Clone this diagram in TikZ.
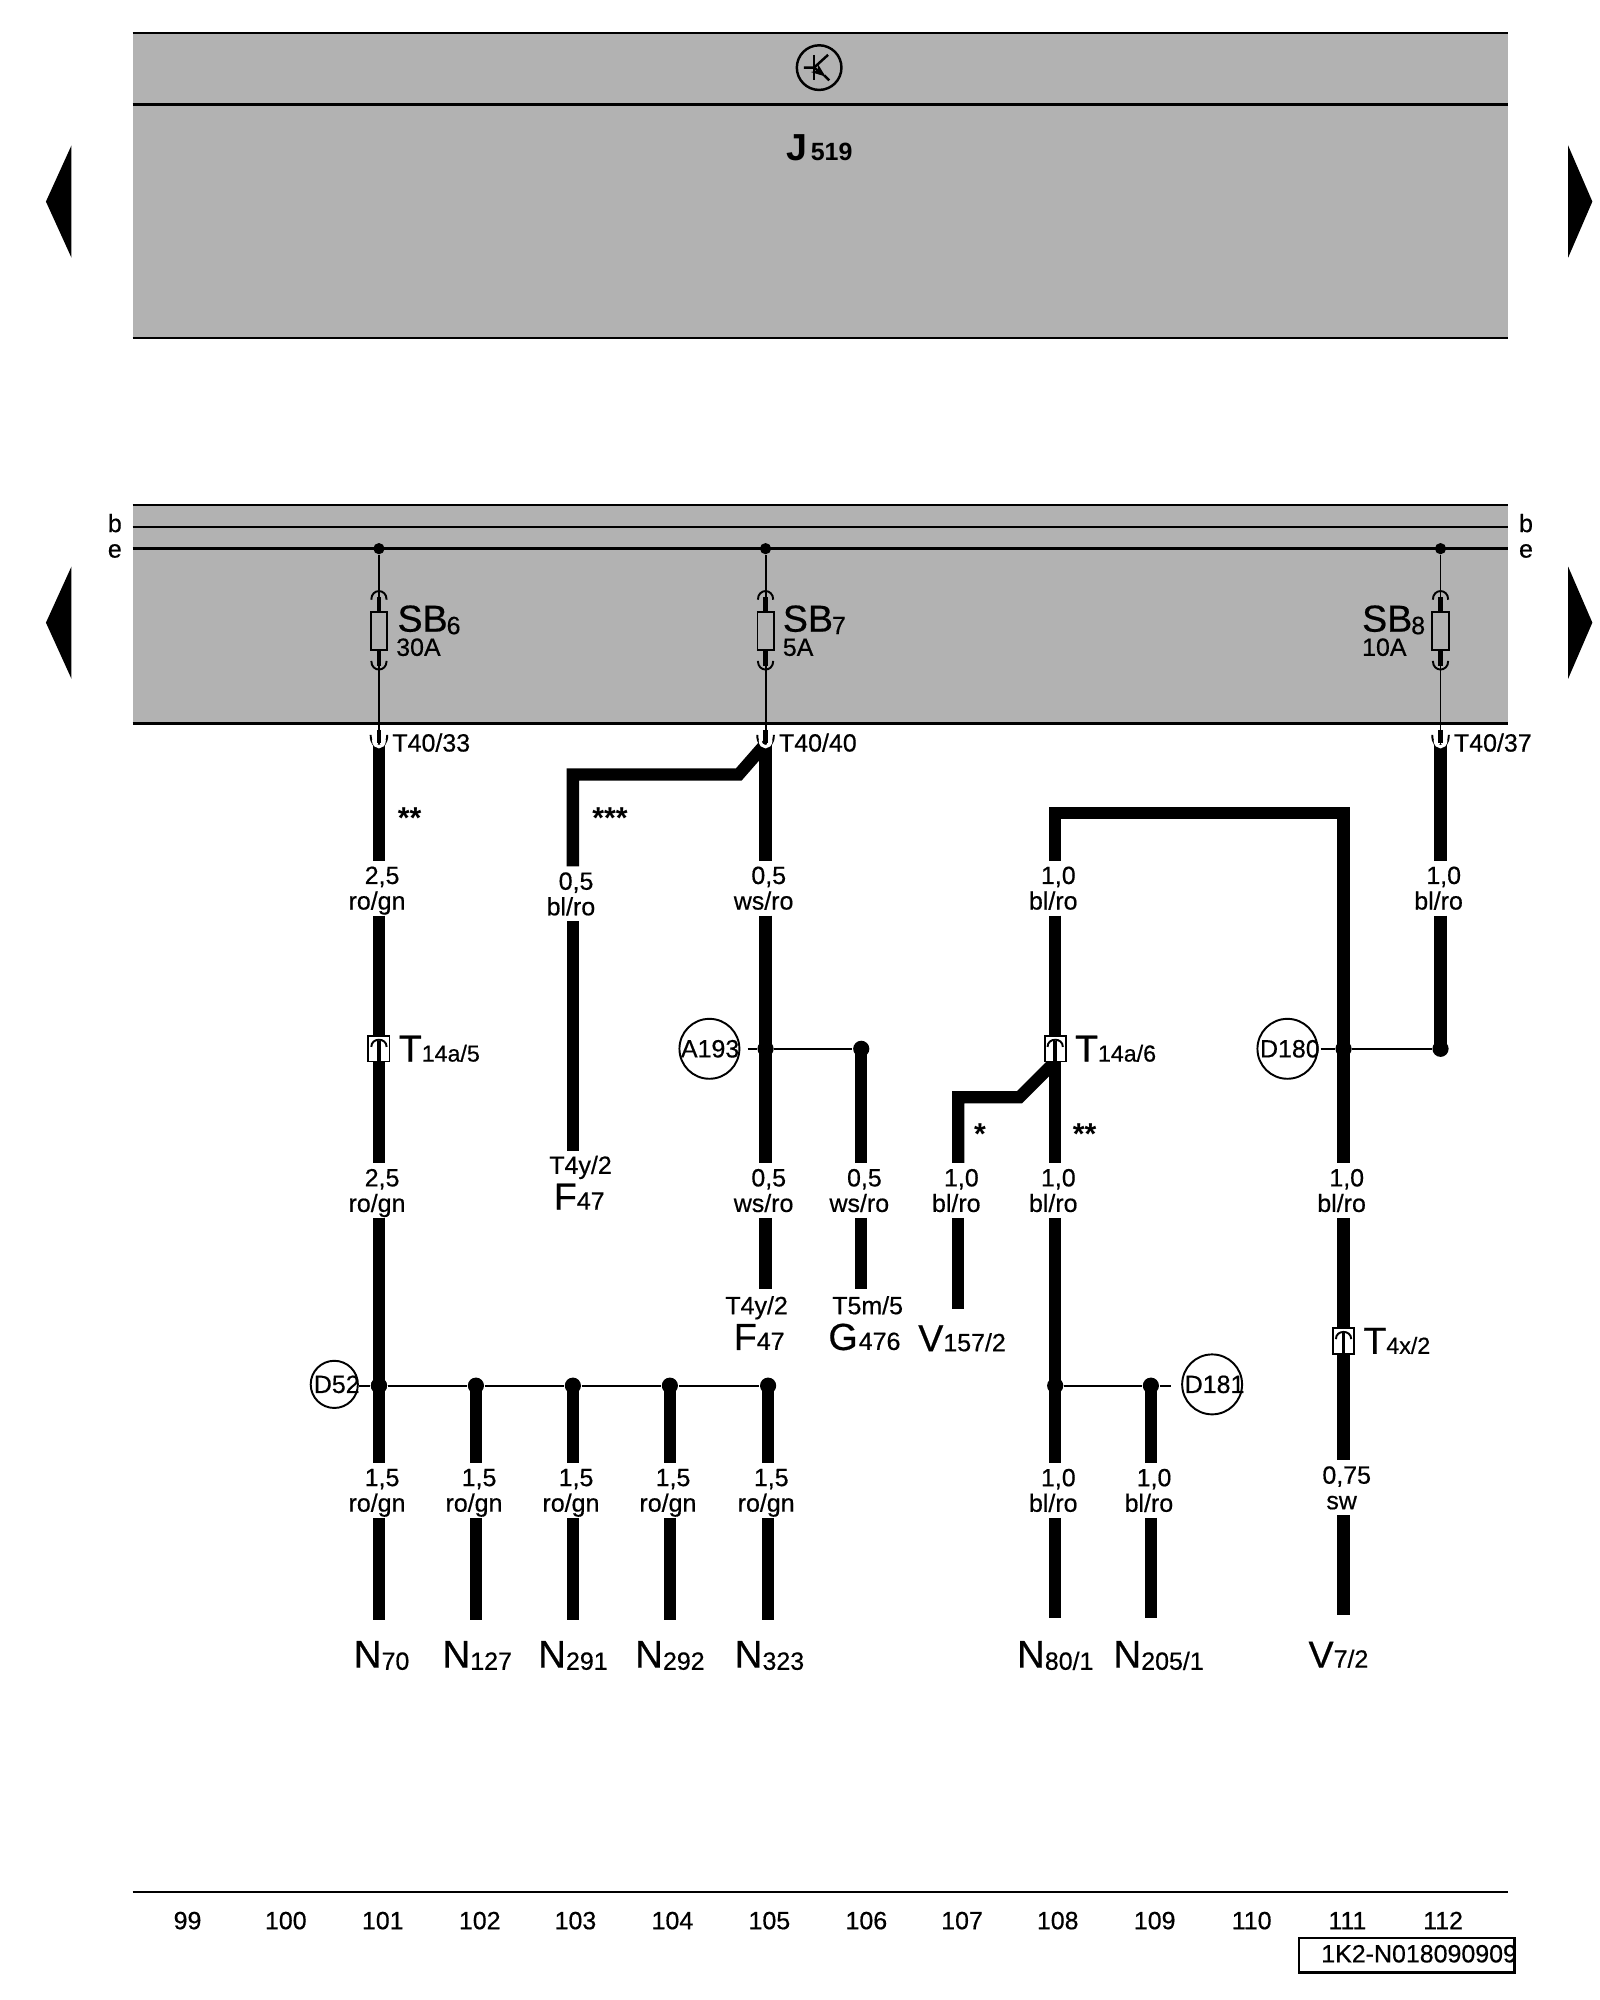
\documentclass[tikz,border=0pt]{standalone}
\usepackage{fontspec}
\setmainfont{Liberation Sans}[FakeBold=0.5]
\newfontfamily\boldface{Liberation Sans Bold}
\usetikzlibrary{arrows.meta, positioning, calc}
\definecolor{panelgray}{RGB}{178, 178, 178}
\newcommand{\smalltxt}{\fontsize{7.1}{7.26}\selectfont}
\newcommand{\bigtxt}{\fontsize{10.7}{11}\selectfont}
\newcommand{\partlabel}[2]{{\bigtxt #1}{\smalltxt #2}}
\newcommand{\plugname}[2]{{\bigtxt #1}{\fontsize{6.6}{7}\selectfont #2}}
\newcommand{\nname}[2]{{\fontsize{11}{11}\selectfont #1}\raisebox{-0.6pt}{\smalltxt #2}}
\newcommand{\wl}[2]{\hspace*{1.8pt}#1\\\smash{#2}\hspace*{1.1pt}}

\begin{document}
\begin{tikzpicture}[
        x=0.01276cm, y=-0.01276cm,
        wire/.style={line width=3.5pt},
        thinwire/.style={line width=0.55pt},
        busline/.style={line width=0.7pt},
        dot/.style={circle, fill=black, inner sep=0, minimum size=4.6pt},
        smalldot/.style={circle, fill=black, inner sep=0, minimum size=3.2pt},
        wirelabel/.style={align=center, inner sep=0, minimum height=42*0.3628pt, font=\smalltxt},
        partname/.style={anchor=base, inner sep=0},
        txt/.style={anchor=base, inner sep=0, font=\smalltxt},
        stars/.style={anchor=base, inner sep=0, font=\boldface\fontsize{8.6}{9}\selectfont},
        splice/.style={draw, circle, line width=0.55pt, inner sep=0, font=\smalltxt},
        fuse/.style={draw, line width=0.55pt, inner sep=0, minimum width=4.6pt, minimum height=11pt},
        plug/.style={draw, line width=0.55pt, fill=white, inner sep=0, minimum width=6pt, minimum height=7.2pt}
    ]
        \useasboundingbox (0,0) rectangle (1254,1567.5);

        % Panels
        \fill[panelgray] (104,26) rectangle (1182,265);
        \fill[panelgray] (104,396) rectangle (1182,567);
        \foreach \ly in {26,82,265,396,413,430,567,1483} {
            \draw[busline] (104,\ly) -- (1182,\ly);
        }

        % Side arrows
        \foreach \ay in {158,488} {
            \fill (56,\ay-44) -- (56,\ay+44) -- (36,\ay) -- cycle;
            \fill (1229,\ay-44) -- (1229,\ay+44) -- (1248,\ay) -- cycle;
        }

        % Control unit
        \node[circle, draw, line width=0.7pt, inner sep=0, minimum size=35*0.3628pt] (symbol) at (642,53) {};
        \draw[line width=0.7pt] (638,43) -- (638,63);
        \draw[line width=0.7pt] (630,53) -- (638,53) -- (649,43);
        \draw[line width=0.7pt, -{Stealth[length=4pt,width=3pt]}] (638,53) -- (647,60);
        \draw[line width=0.7pt] (646,59) -- (650,63);
        \node[partname, anchor=base west] (j519) at (616,126) {{\boldface\bigtxt J}\kern0.9pt{\boldface\smalltxt 519}};

        % Bus labels
        \node[txt] (bl) at (90,417) {b};
        \node[txt] (el) at (90,437) {e};
        \node[txt] (br) at (1196,417) {b};
        \node[txt] (er) at (1196,437) {e};

        % Fuses
        \foreach \fn/\fx in {sb6/297,sb7/600,sb8/1129} {
            \node[smalldot] (e\fn) at (\fx,430) {};
            \node[fuse] (\fn) at (\fx,494.5) {};
            \coordinate (t\fn) at (\fx,583);
            \draw[thinwire] (e\fn) -- (\fn);
            \draw[thinwire] (\fn) -- (t\fn);
            \draw[line width=1.3pt] (\fx,468) -- (\fn.north);
            \draw[line width=1.3pt] (\fn.south) -- (\fx,522);
            \draw[thinwire] (\fx-6,470) .. controls (\fx-6,461) and (\fx+6,461) .. (\fx+6,470);
            \draw[thinwire] (\fx-6,518) .. controls (\fx-6,527) and (\fx+6,527) .. (\fx+6,518);
        }
        \node[partname, anchor=base west] (sb6lab) at (311,497) {\partlabel{\raisebox{0.7pt}{SB}}{\kern-0.3pt 6}};
        \node[partname, anchor=base west] (sb7lab) at (613,497) {\partlabel{\raisebox{0.7pt}{SB}}{\kern-0.3pt 7}};
        \node[partname, anchor=base west] (sb8lab) at (1067,497) {\partlabel{\raisebox{0.7pt}{SB}}{\kern-0.3pt 8}};
        \node[txt, anchor=base west] (a30) at (310,514) {30A};
        \node[txt, anchor=base west] (a5) at (613,514) {5A};
        \node[txt, anchor=base west] (a10) at (1067,514) {10A};
        \node[txt, anchor=base west] (t40a) at (307,589) {T40/33};
        \node[txt, anchor=base west] (t40b) at (610,589) {T40/40};
        \node[txt, anchor=base west] (t40c) at (1139,589) {T40/37};

        % Wire sizes, first row
        \node[wirelabel] (w101a) at (297,696) {\wl{2,5}{ro/gn}};
        \node[wirelabel] (w103a) at (449,700.5) {\wl{0,5}{bl/ro}};
        \node[wirelabel] (w105a) at (600,696) {\wl{0,5}{ws/ro}};
        \node[wirelabel] (w108a) at (827,696) {\wl{1,0}{bl/ro}};
        \node[wirelabel] (w112a) at (1129,696) {\wl{1,0}{bl/ro}};

        % Wire sizes, second row
        \node[wirelabel] (w101b) at (297,933) {\wl{2,5}{ro/gn}};
        \node[wirelabel] (w105b) at (600,933) {\wl{0,5}{ws/ro}};
        \node[wirelabel] (w106b) at (675,933) {\wl{0,5}{ws/ro}};
        \node[wirelabel] (w107b) at (751,933) {\wl{1,0}{bl/ro}};
        \node[wirelabel] (w108b) at (827,933) {\wl{1,0}{bl/ro}};
        \node[wirelabel] (w111b) at (1053,933) {\wl{1,0}{bl/ro}};

        % Stars
        \node[stars] (s1) at (321,649) {**};
        \node[stars] (s2) at (478,649) {***};
        \node[stars] (s3) at (768,897) {*};
        \node[stars] (s4) at (850,897) {**};

        % Column 101
        \node[dot] (d101) at (297,1086) {};
        \draw[wire] (tsb6) -- (tsb6 |- w101a.north);
        \draw[wire] (tsb6 |- w101a.south) -- (tsb6 |- w101b.north);
        \draw[wire] (tsb6 |- w101b.south) -- (d101.center);

        % Column 103 and 105
        \coordinate (f47a) at (449,902);
        \coordinate (f47b) at (600,1010);
        \node[dot] (d105) at (600,822) {};
        \node[dot] (d106) at (675,822) {};
        \coordinate (g476) at (675,1010);
        \draw[wire] (tsb7) -- (579,607) -- (449,607) -- (w103a.north);
        \draw[wire] (w103a.south) -- (f47a);
        \draw[wire] (tsb7) -- (w105a.north);
        \draw[wire] (w105a.south) -- (w105b.north);
        \draw[wire] (w105b.south) -- (f47b);
        \draw[wire] (d106.center) -- (w106b.north);
        \draw[wire] (w106b.south) -- (g476);
        \node[splice, minimum size=47*0.3628pt] (a193) at (556,822) {\makebox[0pt]{\kern0.4pt A193}};
        \coordinate (a193end) at (586,822);
        \draw[thinwire] (a193end) -- (d105) -- (d106);
        \node[txt] (t4ya) at (455,920) {T4y/2};
        \node[partname] (f47al) at (454,948) {\partlabel{F}{47}};
        \node[txt] (t4yb) at (593,1030) {T4y/2};
        \node[partname] (f47bl) at (595,1058) {\partlabel{F}{47}};
        \node[txt] (t5m) at (680,1030) {T5m/5};
        \node[partname] (g476l) at (677.5,1058) {\partlabel{G}{\kern0.3pt 476}};

        % Column 107 and 108
        \coordinate (v157) at (751,1026);
        \coordinate (t14b) at (827,832);
        \node[dot] (d108) at (827,1086) {};
        \node[dot] (d109) at (902,1086) {};
        \node[dot] (d111) at (1053,822) {};
        \coordinate (n1e) at (827,1268);
        \coordinate (n2e) at (902,1268);
        \draw[wire] (t14b) -- (799,860) -- (751,860) -- (w107b.north);
        \draw[wire] (w107b.south) -- (v157);
        \draw[wire] (d111.center) -- (1053,637) -- (827,637) -- (w108a.north);
        \draw[wire] (w108a.south) -- (w108b.north);
        \draw[wire] (w108b.south) -- (d108.center);
        \node[wirelabel] (w108c) at (827,1168) {\wl{1,0}{bl/ro}};
        \node[wirelabel] (w109c) at (902,1168) {\wl{1,0}{bl/ro}};
        \draw[wire] (d108.center) -- (w108c.north);
        \draw[wire] (w108c.south) -- (n1e);
        \draw[wire] (d109.center) -- (w109c.north);
        \draw[wire] (w109c.south) -- (n2e);
        \node[splice, minimum size=47*0.3628pt] (d181) at (950,1085) {\makebox[0pt]{\kern1.4pt D181}};
        \coordinate (d181end) at (918,1086);
        \draw[thinwire] (d108) -- (d109) -- (d181end);
        \node[partname] (v157l) at (754,1059) {\partlabel{V}{157/2}};
        \node[partname] (n80l) at (827,1307) {\nname{N}{80/1}};
        \node[partname] (n205l) at (908,1307) {\nname{N}{205/1}};

        % Column 111 and 112
        \node[dot] (d112) at (1129,822) {};
        \coordinate (v7) at (1053,1266);
        \node[wirelabel] (w111c) at (1053,1166) {\wl{0,75}{sw}};
        \draw[wire] (d111.center) -- (w111b.north);
        \draw[wire] (w111b.south) -- (w111c.north);
        \draw[wire] (w111c.south) -- (v7);
        \draw[wire] (tsb8) -- (w112a.north);
        \draw[wire] (w112a.south) -- (d112.center);
        \node[splice, minimum size=47*0.3628pt] (d180) at (1009,822) {\makebox[0pt]{\kern1.4pt D180}};
        \coordinate (d180end) at (1035,822);
        \draw[thinwire] (d180end) -- (d111) -- (d112);
        \node[partname] (v7l) at (1049,1307) {\partlabel{V}{7/2}};

        % Branch to N parts
        \node[splice, minimum size=37*0.3628pt] (d52) at (262,1085) {\makebox[0pt]{\kern1.4pt D52}};
        \coordinate (d52end) at (281,1086);
        \foreach \nx/\nlx/\nid in {297/299/70, 373/374/127, 449/449/291, 525/525/292, 602/603/323} {
            \node[dot] (b\nid) at (\nx,1086) {};
            \node[wirelabel] (w\nid) at (\nx,1168) {\wl{1,5}{ro/gn}};
            \coordinate (e\nid) at (\nx,1270);
            \draw[wire] (b\nid.center) -- (w\nid.north);
            \draw[wire] (w\nid.south) -- (e\nid);
            \node[partname] (n\nid) at (\nlx,1307) {\nname{N}{\nid}};
        }
        \draw[thinwire] (d52end) -- (b70) -- (b127) -- (b291) -- (b292) -- (b323);

        % Terminals
        \foreach \tx in {297,600,1129} {
            \draw[line width=1.3pt] (\tx,572) -- (\tx,582);
            \draw[thinwire] (\tx-6.5,576) .. controls (\tx-6.5,589) and (\tx+6.5,589) .. (\tx+6.5,576);
            \draw[line width=0.9pt, white] (\tx-4.2,580) .. controls (\tx-4.2,587) and (\tx+4.2,587) .. (\tx+4.2,580);
        }

        % Plugs
        \foreach \pn/\px/\py in {p145/297/822, p146/827/822, p4x/1053/1051} {
            \node[plug] (\pn) at (\px,\py) {};
            \draw[thinwire] (\px-6,\py-1.5) .. controls (\px-6,\py-9) and (\px+6,\py-9) .. (\px+6,\py-1.5);
            \draw[line width=1.1pt] (\px,\py-6) -- (\pn.south);
        }
        \node[partname, anchor=base west] (t145l) at (312,832) {\plugname{T}{14a/5}};
        \node[partname, anchor=base west] (t146l) at (842,832) {\plugname{T}{14a/6}};
        \node[partname, anchor=base west] (t4xl) at (1068,1061) {\plugname{T}{4x/2}};

        % Column numbers
        \foreach \cx/\cn in {147/99,224/100,300/101,376/102,451/103,527/104,603/105,679/106,754/107,829/108,905/109,981/110,1056/111,1131/112} {
            \node[txt] (c\cn) at (\cx,1512) {\cn};
        }

        % Drawing number
        \node[draw, line width=0.7pt, minimum width=169*0.3628pt, minimum height=27*0.3628pt, inner sep=0] (number) at (1102.5,1532.5) {};
        \node[txt, anchor=base west] (numtext) at (1035,1538) {1K2-N018090909};
    \end{tikzpicture}
\end{document}
